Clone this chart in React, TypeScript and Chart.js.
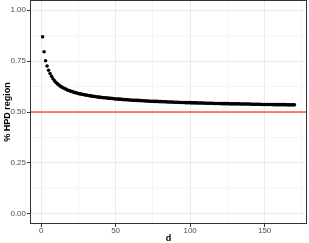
import React, { useEffect, useRef } from 'react';
import { Chart, registerables } from 'chart.js';

Chart.register(...registerables);

// % HPD region for dimension d = 1..170
const HPD: number[] = [
  0.869, 0.796, 0.752, 0.726, 0.705, 0.689, 0.675, 0.663, 0.653, 0.645,
  0.638, 0.632, 0.626, 0.622, 0.618, 0.614, 0.611, 0.607, 0.605, 0.602,
  0.600, 0.597, 0.595, 0.593, 0.591, 0.589, 0.588, 0.586, 0.585, 0.583,
  0.582, 0.581, 0.579, 0.578, 0.577, 0.576, 0.575, 0.574, 0.573, 0.572,
  0.571, 0.570, 0.570, 0.569, 0.568, 0.567, 0.567, 0.566, 0.565, 0.564,
  0.564, 0.563, 0.563, 0.562, 0.561, 0.561, 0.560, 0.560, 0.559, 0.559,
  0.558, 0.558, 0.557, 0.557, 0.557, 0.556, 0.556, 0.555, 0.555, 0.554,
  0.554, 0.554, 0.553, 0.553, 0.553, 0.552, 0.552, 0.552, 0.551, 0.551,
  0.551, 0.550, 0.550, 0.550, 0.549, 0.549, 0.549, 0.549, 0.548, 0.548,
  0.548, 0.548, 0.547, 0.547, 0.547, 0.547, 0.546, 0.546, 0.546, 0.546,
  0.545, 0.545, 0.545, 0.545, 0.544, 0.544, 0.544, 0.544, 0.544, 0.543,
  0.543, 0.543, 0.543, 0.543, 0.543, 0.542, 0.542, 0.542, 0.542, 0.542,
  0.541, 0.541, 0.541, 0.541, 0.541, 0.541, 0.540, 0.540, 0.540, 0.540,
  0.540, 0.540, 0.540, 0.539, 0.539, 0.539, 0.539, 0.539, 0.539, 0.539,
  0.538, 0.538, 0.538, 0.538, 0.538, 0.538, 0.538, 0.537, 0.537, 0.537,
  0.537, 0.537, 0.537, 0.537, 0.537, 0.536, 0.536, 0.536, 0.536, 0.536,
  0.536, 0.536, 0.536, 0.536, 0.535, 0.535, 0.535, 0.535, 0.535, 0.535,
];
const D: number[] = HPD.map((_, i) => i + 1);

const HLINE = 0.5;
const X_TICKS = [0, 25, 50, 75, 100, 125, 150, 175];
const X_MAJOR = [0, 50, 100, 150];
const Y_TICKS = [0, 0.125, 0.25, 0.375, 0.5, 0.625, 0.75, 0.875, 1.0];
const Y_MAJOR = [0, 0.25, 0.5, 0.75, 1.0];

const isMajor = (list: number[], v: number) => list.some((m) => Math.abs(m - v) < 1e-9);

const FONT = "'Liberation Sans', Arial, Helvetica, sans-serif";

export default function App() {
  const ref = useRef<HTMLCanvasElement | null>(null);

  useEffect(() => {
    document.body.style.margin = '0';
    if (!ref.current) return;

    const framePlugin = {
      id: 'frame',
      afterDatasetsDraw(chart: any) {
        const { ctx, chartArea, scales } = chart;
        const y = scales.y.getPixelForValue(HLINE);
        ctx.save();
        ctx.strokeStyle = '#ff0000';
        ctx.lineWidth = 1.1;
        ctx.beginPath();
        ctx.moveTo(chartArea.left, y);
        ctx.lineTo(chartArea.right, y);
        ctx.stroke();
        ctx.strokeStyle = '#333333';
        ctx.lineWidth = 1;
        ctx.strokeRect(
          chartArea.left + 0.5,
          chartArea.top + 0.5,
          chartArea.right - chartArea.left - 1,
          chartArea.bottom - chartArea.top - 1
        );
        ctx.restore();
      },
    };

    const chart = new Chart(ref.current, {
      type: 'scatter',
      data: {
        datasets: [
          {
            data: D.map((d, i) => ({ x: d, y: HPD[i] })),
            backgroundColor: '#000000',
            borderColor: '#000000',
            pointRadius: 1.8,
            pointBorderWidth: 0,
          },
        ],
      },
      options: {
        animation: false,
        responsive: false,
        maintainAspectRatio: false,
        layout: { autoPadding: false, padding: { top: 0, right: 2, bottom: 0, left: 0 } },
        plugins: {
          legend: { display: false },
          tooltip: { enabled: false },
        },
        scales: {
          x: {
            type: 'linear',
            min: -7.45,
            max: 178.45,
            afterBuildTicks: (s: any) => {
              s.ticks = X_TICKS.map((v) => ({ value: v }));
            },
            afterFit: (s: any) => {
              s.height = 19;
              s.paddingLeft = 0;
              s.paddingRight = 0;
            },
            border: { display: false },
            grid: {
              color: '#ebebeb',
              lineWidth: (c: any) => (isMajor(X_MAJOR, c.tick?.value) ? 1 : 0.5),
              tickColor: (c: any) => (isMajor(X_MAJOR, c.tick?.value) ? '#333333' : 'rgba(0,0,0,0)'),
              tickLength: 3,
              tickWidth: 1,
            },
            ticks: {
              autoSkip: false,
              maxRotation: 0,
              padding: 0,
              color: '#4d4d4d',
              font: { family: FONT, size: 8, lineHeight: 1 },
              callback: (v: any) => (isMajor(X_MAJOR, Number(v)) ? String(v) : ''),
            },
            title: {
              display: true,
              text: 'd',
              color: '#000000',
              font: { family: FONT, size: 9, weight: 'bold', lineHeight: 1.1 },
              padding: { top: 0, bottom: 0 },
            },
          },
          y: {
            type: 'linear',
            min: -0.05,
            max: 1.05,
            afterBuildTicks: (s: any) => {
              s.ticks = Y_TICKS.map((v) => ({ value: v }));
            },
            afterFit: (s: any) => {
              s.width = 30;
              s.paddingTop = 0;
              s.paddingBottom = 0;
            },
            border: { display: false },
            grid: {
              color: '#ebebeb',
              lineWidth: (c: any) => (isMajor(Y_MAJOR, c.tick?.value) ? 1 : 0.5),
              tickColor: (c: any) => (isMajor(Y_MAJOR, c.tick?.value) ? '#333333' : 'rgba(0,0,0,0)'),
              tickLength: 3,
              tickWidth: 1,
            },
            ticks: {
              autoSkip: false,
              padding: 1,
              color: '#4d4d4d',
              font: { family: FONT, size: 8, lineHeight: 1 },
              callback: (v: any) => (isMajor(Y_MAJOR, Number(v)) ? Number(v).toFixed(2) : ''),
            },
            title: {
              display: true,
              text: '% HPD region',
              color: '#000000',
              font: { family: FONT, size: 9, weight: 'bold', lineHeight: 1.1 },
              padding: { top: 3, bottom: 0 },
            },
          },
        },
      },
      plugins: [framePlugin],
    } as any);

    return () => chart.destroy();
  }, []);

  return (
    <div style={{ width: 309, height: 243, position: 'relative' }}>
      <canvas ref={ref} width={309} height={243} style={{ width: 309, height: 243, display: 'block' }} />
    </div>
  );
}
